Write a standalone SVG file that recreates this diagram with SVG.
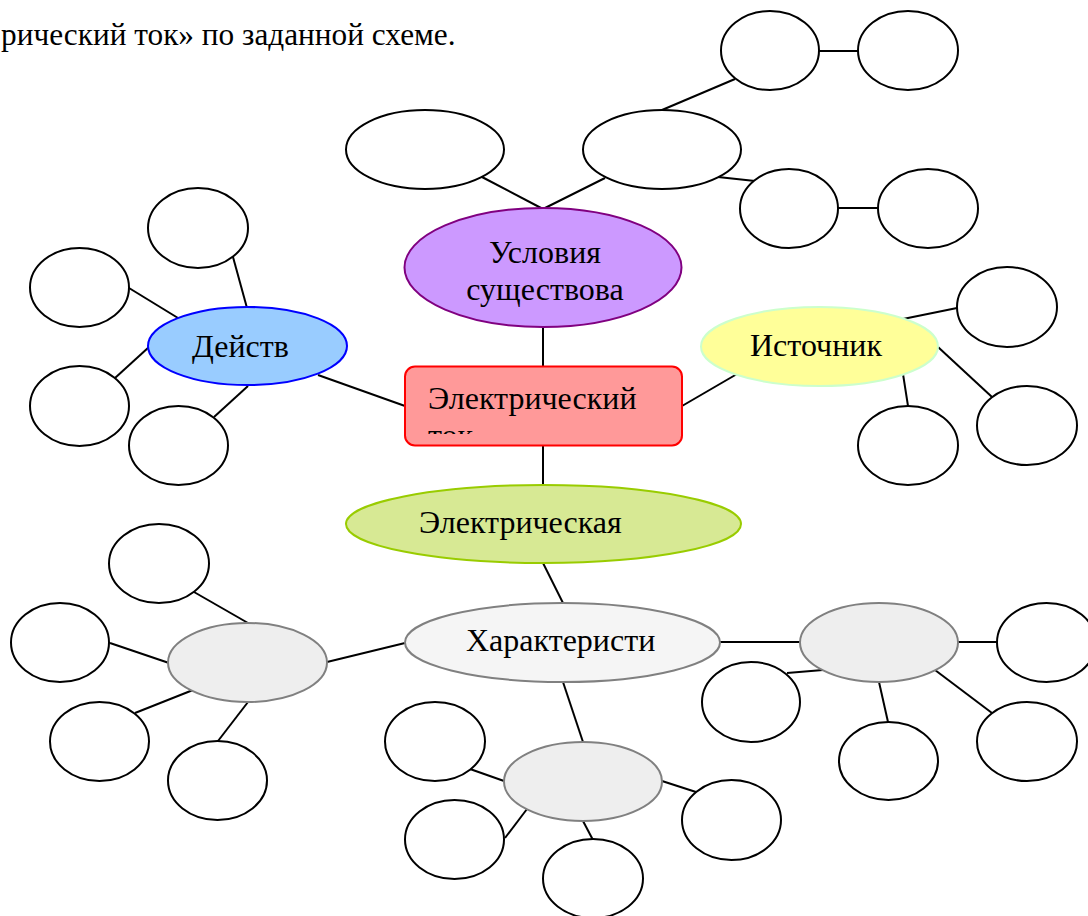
<svg xmlns="http://www.w3.org/2000/svg" width="1088" height="916" viewBox="0 0 1088 916">
<style>
text{font-family:"Liberation Serif","Times New Roman",serif;fill:#000}
.lbl{font-size:32px}
.top{font-size:31.3px}
.w{fill:#fff;stroke:#000;stroke-width:2}
.g{fill:#eeeeee;stroke:#808080;stroke-width:2}
#conn line{stroke:#000;stroke-width:2}
</style>
<defs>
<clipPath id="clipRed"><rect x="405" y="366" width="277" height="68"/></clipPath>
</defs>
<rect width="1088" height="916" fill="#fff"/>
<text class="top" x="1" y="45">рический ток» по заданной схеме.</text>
<g id="conn">
<line x1="819" y1="51" x2="858" y2="51"/>
<line x1="662" y1="110" x2="735" y2="79"/>
<line x1="838" y1="208" x2="878" y2="208"/>
<line x1="718" y1="177" x2="755" y2="181"/>
<line x1="605" y1="178" x2="543" y2="209"/>
<line x1="482" y1="177" x2="543" y2="209"/>
<line x1="543" y1="327" x2="543" y2="367"/>
<line x1="318" y1="375" x2="405" y2="406"/>
<line x1="682" y1="406" x2="737" y2="374"/>
<line x1="543" y1="446" x2="543" y2="485"/>
<line x1="233" y1="257" x2="247" y2="308"/>
<line x1="129" y1="288" x2="178" y2="318"/>
<line x1="115" y1="378" x2="149" y2="347"/>
<line x1="214" y1="417" x2="248" y2="386"/>
<line x1="903" y1="319" x2="957" y2="308"/>
<line x1="938" y1="347" x2="992" y2="397"/>
<line x1="903" y1="374" x2="908" y2="406"/>
<line x1="543" y1="563" x2="563" y2="603"/>
<line x1="327" y1="662" x2="405" y2="643"/>
<line x1="720" y1="642" x2="800" y2="642"/>
<line x1="563" y1="682" x2="583" y2="742"/>
<line x1="194" y1="592" x2="248" y2="623"/>
<line x1="110" y1="643" x2="169" y2="663"/>
<line x1="135" y1="713" x2="193" y2="690"/>
<line x1="218" y1="741" x2="248" y2="702"/>
<line x1="470" y1="769" x2="504" y2="781"/>
<line x1="505" y1="838" x2="527" y2="809"/>
<line x1="583" y1="821" x2="593" y2="840"/>
<line x1="662" y1="781" x2="696" y2="792"/>
<line x1="958" y1="642" x2="997" y2="642"/>
<line x1="787" y1="673" x2="823" y2="670"/>
<line x1="879" y1="682" x2="888" y2="722"/>
<line x1="935" y1="670" x2="992" y2="713"/>
</g>
<g id="top-1"><ellipse class="w" cx="770" cy="50.5" rx="49" ry="39.5"/></g>
<g id="top-2"><ellipse class="w" cx="908" cy="50.5" rx="50" ry="39.5"/></g>
<g id="top-3"><ellipse class="w" cx="662" cy="149.5" rx="79" ry="39.5"/></g>
<g id="top-4"><ellipse class="w" cx="789" cy="208.5" rx="49" ry="39.5"/></g>
<g id="top-5"><ellipse class="w" cx="928" cy="208.5" rx="50" ry="39.5"/></g>
<g id="top-6"><ellipse class="w" cx="425" cy="149.5" rx="79" ry="39.5"/></g>
<g id="usloviya">
<ellipse cx="543" cy="267.5" rx="138.5" ry="59.5" fill="#cc99ff" stroke="#800080" stroke-width="2"/>
<text class="lbl" x="545" y="263" text-anchor="middle">Условия</text>
<text class="lbl" x="545" y="300" text-anchor="middle">существова</text>
</g>
<g id="tok">
<rect x="405" y="366.5" width="277" height="79" rx="10" fill="#ff9999" stroke="#ff0000" stroke-width="2"/>
<g clip-path="url(#clipRed)">
<text class="lbl" x="428" y="409">Электрический</text>
<text class="lbl" x="428" y="446">ток</text>
</g>
</g>
<g id="deystv">
<ellipse cx="247.5" cy="346" rx="99.5" ry="39" fill="#99ccff" stroke="#0000ff" stroke-width="2"/>
<text class="lbl" x="192" y="357">Действ</text>
</g>
<g id="d-1"><ellipse class="w" cx="198" cy="228" rx="50" ry="40"/></g>
<g id="d-2"><ellipse class="w" cx="79.5" cy="287.5" rx="49.5" ry="39.5"/></g>
<g id="d-3"><ellipse class="w" cx="79.5" cy="406" rx="49.5" ry="40"/></g>
<g id="d-4"><ellipse class="w" cx="178.5" cy="445.5" rx="49.5" ry="39.5"/></g>
<g id="istochnik">
<ellipse cx="819.5" cy="346.5" rx="118.5" ry="39.5" fill="#ffff99" stroke="#ccffcc" stroke-width="2"/>
<text class="lbl" x="750" y="356">Источник</text>
</g>
<g id="i-1"><ellipse class="w" cx="1007" cy="307" rx="50" ry="40"/></g>
<g id="i-2"><ellipse class="w" cx="1027" cy="425.5" rx="50" ry="39.5"/></g>
<g id="i-3"><ellipse class="w" cx="908" cy="445.5" rx="50" ry="39.5"/></g>
<g id="energiya">
<ellipse cx="543.5" cy="524" rx="197.5" ry="39" fill="#d7e994" stroke="#99cc00" stroke-width="2"/>
<text class="lbl" x="419" y="533">Электрическая</text>
</g>
<g id="harakteristiki">
<ellipse cx="562.5" cy="642.5" rx="157.5" ry="39.5" fill="#f5f5f5" stroke="#808080" stroke-width="2"/>
<text class="lbl" x="466" y="651">Характеристи</text>
</g>
<g id="left-gray"><ellipse class="g" cx="247.5" cy="662.5" rx="79.5" ry="39.5"/></g>
<g id="l-1"><ellipse class="w" cx="159" cy="563.5" rx="50" ry="39.5"/></g>
<g id="l-2"><ellipse class="w" cx="60" cy="642.5" rx="49" ry="39.5"/></g>
<g id="l-3"><ellipse class="w" cx="99.5" cy="741.5" rx="49.5" ry="39.5"/></g>
<g id="l-4"><ellipse class="w" cx="217.5" cy="780.5" rx="49.5" ry="39.5"/></g>
<g id="bottom-gray"><ellipse class="g" cx="583" cy="781.5" rx="79" ry="39.5"/></g>
<g id="b-1"><ellipse class="w" cx="435" cy="741.5" rx="50" ry="39.5"/></g>
<g id="b-2"><ellipse class="w" cx="454.5" cy="839.5" rx="49.5" ry="39.5"/></g>
<g id="b-3"><ellipse class="w" cx="593" cy="878.5" rx="50" ry="39.5"/></g>
<g id="b-4"><ellipse class="w" cx="731.5" cy="820" rx="49.5" ry="40"/></g>
<g id="right-gray"><ellipse class="g" cx="879" cy="642.5" rx="79" ry="39.5"/></g>
<g id="r-1"><ellipse class="w" cx="1046.5" cy="642.5" rx="49.5" ry="39.5"/></g>
<g id="r-2"><ellipse class="w" cx="751" cy="702" rx="49" ry="40"/></g>
<g id="r-3"><ellipse class="w" cx="888.5" cy="761" rx="49.5" ry="39"/></g>
<g id="r-4"><ellipse class="w" cx="1027" cy="741.5" rx="50" ry="39.5"/></g>
</svg>
